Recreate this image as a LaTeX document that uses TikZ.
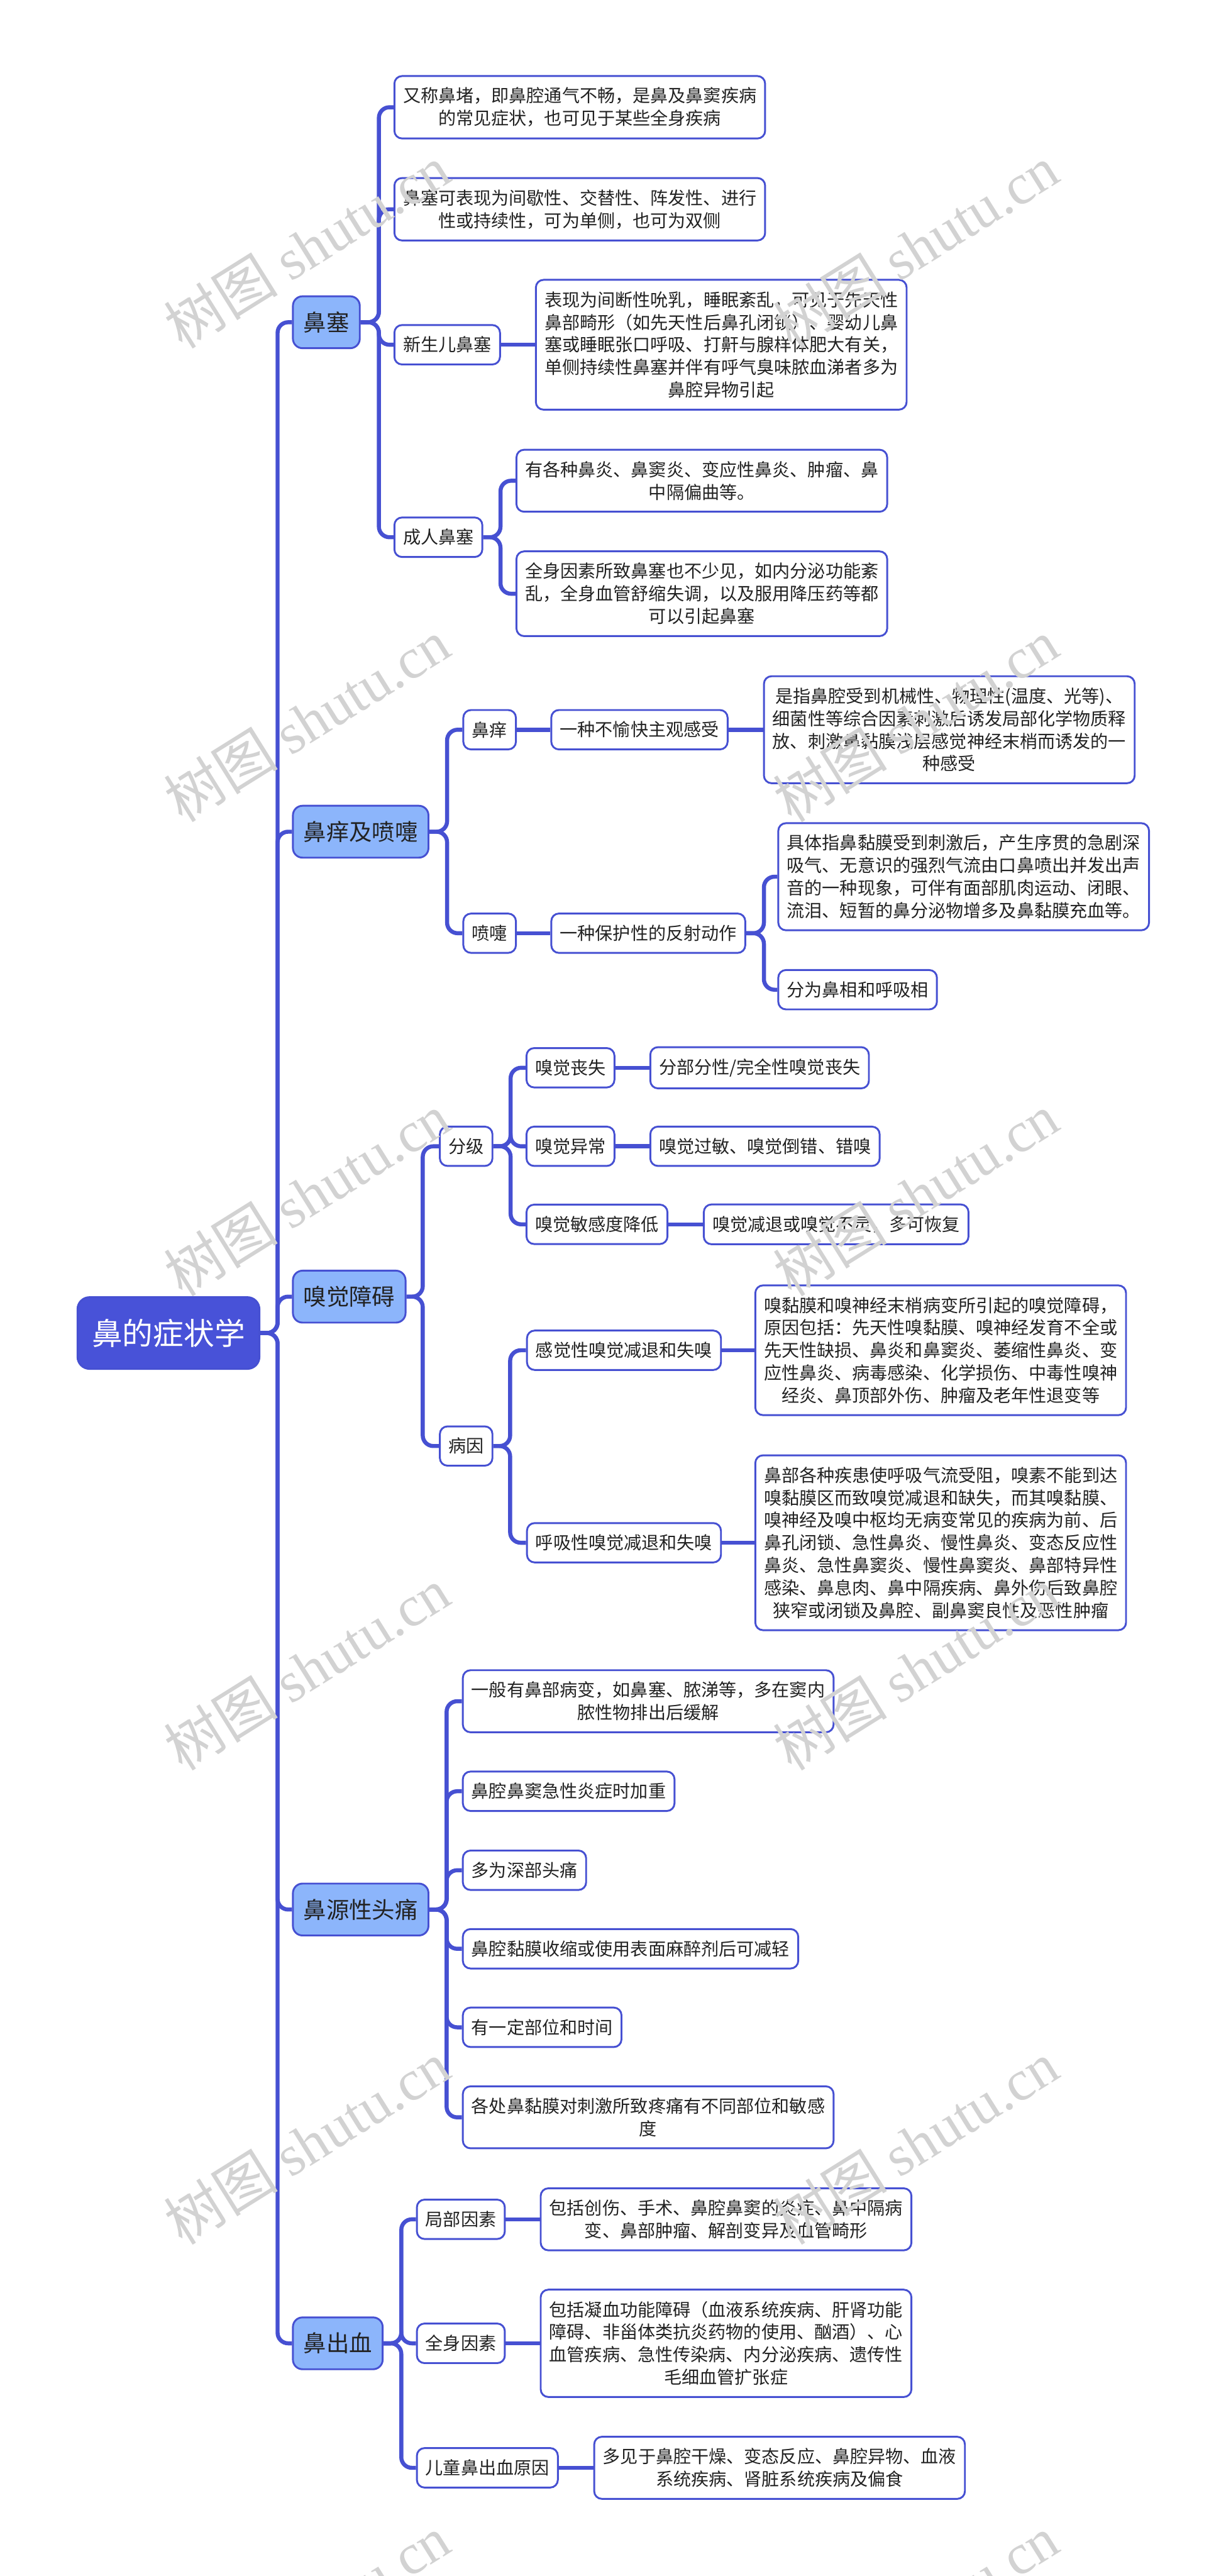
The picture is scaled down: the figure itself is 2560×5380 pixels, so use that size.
\documentclass[tikz,border=0pt]{standalone}
\usepackage{fontspec}
\setmainfont{Noto Sans CJK SC}
\newfontfamily\markfont{Liberation Serif}
\usetikzlibrary{positioning}
\definecolor{LineBlue}{RGB}{70, 80, 210}
\definecolor{RootBlue}{RGB}{72, 82, 216}
\definecolor{TopicBlue}{RGB}{140, 181, 251}
\definecolor{InkGray}{RGB}{34, 34, 34}
\definecolor{MarkGray}{RGB}{210, 210, 210}

\tikzset{
  link/.style={LineBlue, line width=2.4pt, rounded corners=0.22cm},
  rootbox/.style={draw=LineBlue, fill=RootBlue, text=white, line width=1.1pt,
    rounded corners=0.25cm, inner xsep=0.3cm, inner ysep=0.45cm,
    font=\fontsize{18.2}{22}\selectfont, anchor=west},
  topicbox/.style={draw=LineBlue, fill=TopicBlue, text=InkGray, line width=1.1pt,
    rounded corners=0.2cm, inner xsep=0.22cm, inner ysep=0.32cm,
    font=\fontsize{13.6}{16}\selectfont, anchor=west},
  itembox/.style={draw=LineBlue, fill=white, text=InkGray, line width=1.1pt,
    rounded corners=0.16cm, inner xsep=0.18cm, inner ysep=0.24cm, align=center,
    font=\fontsize{10.5}{13.4}\selectfont, anchor=west},
  wmark/.style={text=MarkGray, rotate=32, font=\fontsize{34}{40}\selectfont}
}

\begin{document}
\begin{tikzpicture}[x=0.01cm, y=-0.01cm]
    \fill[white] (0,0) rectangle (2560,5380);
    \useasboundingbox (0,0) rectangle (2560,5380);

    % Root and topics
    \node[rootbox] (root) at (160, 2784) {鼻的症状学};
    \node[topicbox] (nasal) at (610, 673) {鼻塞};
    \node[topicbox] (itch) at (610, 1737) {鼻痒及喷嚏};
    \node[topicbox] (smell) at (610, 2708) {嗅觉障碍};
    \node[topicbox] (headache) at (610, 3988) {鼻源性头痛};
    \node[topicbox] (bleed) at (610, 4894) {鼻出血};

    % Nasal obstruction
    \node[itembox] (nasalA) at (822, 224) {又称鼻堵，即鼻腔通气不畅，是鼻及鼻窦疾病\\的常见症状，也可见于某些全身疾病};
    \node[itembox] (nasalB) at (822, 437) {鼻塞可表现为间歇性、交替性、阵发性、进行\\性或持续性，可为单侧，也可为双侧};
    \node[itembox] (newborn) at (822, 720) {新生儿鼻塞};
    \node[itembox, right=0.71cm of newborn] (newbornD) {表现为间断性吮乳，睡眠紊乱，可见于先天性\\鼻部畸形（如先天性后鼻孔闭锁）、婴幼儿鼻\\塞或睡眠张口呼吸、打鼾与腺样体肥大有关，\\单侧持续性鼻塞并伴有呼气臭味脓血涕者多为\\鼻腔异物引起};
    \node[itembox] (adult) at (822, 1122) {成人鼻塞};
    \node[itembox] (adultA) at (1077, 1004) {有各种鼻炎、鼻窦炎、变应性鼻炎、肿瘤、鼻\\中隔偏曲等。};
    \node[itembox] (adultB) at (1077, 1240) {全身因素所致鼻塞也不少见，如内分泌功能紊\\乱，全身血管舒缩失调，以及服用降压药等都\\可以引起鼻塞};

    % Itching and sneezing
    \node[itembox] (itchy) at (966, 1524) {鼻痒};
    \node[itembox, right=0.7cm of itchy] (itchyA) {一种不愉快主观感受};
    \node[itembox, right=0.72cm of itchyA] (itchyD) {是指鼻腔受到机械性、物理性(温度、光等)、\\细菌性等综合因素刺激后诱发局部化学物质释\\放、刺激鼻黏膜浅层感觉神经末梢而诱发的一\\种感受};
    \node[itembox] (sneeze) at (966, 1949) {喷嚏};
    \node[itembox, right=0.7cm of sneeze] (sneezeA) {一种保护性的反射动作};
    \node[itembox] (sneezeD) at (1624, 1831) {具体指鼻黏膜受到刺激后，产生序贯的急剧深\\吸气、无意识的强烈气流由口鼻喷出并发出声\\音的一种现象，可伴有面部肌肉运动、闭眼、\\流泪、短暂的鼻分泌物增多及鼻黏膜充血等。};
    \node[itembox] (sneezeP) at (1624, 2067) {分为鼻相和呼吸相};

    % Olfactory disorders
    \node[itembox] (grade) at (917, 2394) {分级};
    \node[itembox] (lossA) at (1098, 2230) {嗅觉丧失};
    \node[itembox, right=0.71cm of lossA] (lossB) {分部分性/完全性嗅觉丧失};
    \node[itembox] (oddA) at (1098, 2394) {嗅觉异常};
    \node[itembox, right=0.71cm of oddA] (oddB) {嗅觉过敏、嗅觉倒错、错嗅};
    \node[itembox] (lowA) at (1098, 2557) {嗅觉敏感度降低};
    \node[itembox, right=0.72cm of lowA] (lowB) {嗅觉减退或嗅觉不灵，多可恢复};
    \node[itembox] (cause) at (917, 3020) {病因};
    \node[itembox] (sensA) at (1099, 2820) {感觉性嗅觉减退和失嗅};
    \node[itembox] (sensB) at (1576, 2820) {嗅黏膜和嗅神经末梢病变所引起的嗅觉障碍，\\原因包括：先天性嗅黏膜、嗅神经发育不全或\\先天性缺损、鼻炎和鼻窦炎、萎缩性鼻炎、变\\应性鼻炎、病毒感染、化学损伤、中毒性嗅神\\经炎、鼻顶部外伤、肿瘤及老年性退变等};
    \node[itembox] (respA) at (1099, 3222) {呼吸性嗅觉减退和失嗅};
    \node[itembox] (respB) at (1576, 3222) {鼻部各种疾患使呼吸气流受阻，嗅素不能到达\\嗅黏膜区而致嗅觉减退和缺失，而其嗅黏膜、\\嗅神经及嗅中枢均无病变常见的疾病为前、后\\鼻孔闭锁、急性鼻炎、慢性鼻炎、变态反应性\\鼻炎、急性鼻窦炎、慢性鼻窦炎、鼻部特异性\\感染、鼻息肉、鼻中隔疾病、鼻外伤后致鼻腔\\狭窄或闭锁及鼻腔、副鼻窦良性及恶性肿瘤};

    % Rhinogenic headache
    \node[itembox] (headA) at (965, 3553) {一般有鼻部病变，如鼻塞、脓涕等，多在窦内\\脓性物排出后缓解};
    \node[itembox] (headB) at (965, 3741) {鼻腔鼻窦急性炎症时加重};
    \node[itembox] (headC) at (965, 3906) {多为深部头痛};
    \node[itembox] (headD) at (965, 4070) {鼻腔黏膜收缩或使用表面麻醉剂后可减轻};
    \node[itembox] (headE) at (965, 4234) {有一定部位和时间};
    \node[itembox] (headF) at (965, 4422) {各处鼻黏膜对刺激所致疼痛有不同部位和敏感\\度};

    % Epistaxis
    \node[itembox] (localA) at (869, 4635) {局部因素};
    \node[itembox, right=0.71cm of localA] (localB) {包括创伤、手术、鼻腔鼻窦的炎症、鼻中隔病\\变、鼻部肿瘤、解剖变异及血管畸形};
    \node[itembox] (sysA) at (869, 4894) {全身因素};
    \node[itembox, right=0.71cm of sysA] (sysB) {包括凝血功能障碍（血液系统疾病、肝肾功能\\障碍、非甾体类抗炎药物的使用、酗酒）、心\\血管疾病、急性传染病、内分泌疾病、遗传性\\毛细血管扩张症};
    \node[itembox] (childA) at (869, 5154) {儿童鼻出血原因};
    \node[itembox, right=0.72cm of childA] (childB) {多见于鼻腔干燥、变态反应、鼻腔异物、血液\\系统疾病、肾脏系统疾病及偏食};

    % Links
    \foreach \t in {nasal,itch,smell,headache,bleed}
      \draw[link] (root.east) -- ++(36,0) |- (\t.west);
    \foreach \t in {nasalA,nasalB,newborn,adult}
      \draw[link] (nasal.east) -- ++(38,0) |- (\t.west);
    \draw[link] (newborn.east) -- (newbornD.west);
    \foreach \t in {adultA,adultB}
      \draw[link] (adult.east) -- ++(36,0) |- (\t.west);
    \foreach \t in {itchy,sneeze}
      \draw[link] (itch.east) -- ++(37,0) |- (\t.west);
    \draw[link] (itchy.east) -- (itchyA.west);
    \draw[link] (itchyA.east) -- (itchyD.west);
    \draw[link] (sneeze.east) -- (sneezeA.west);
    \foreach \t in {sneezeD,sneezeP}
      \draw[link] (sneezeA.east) -- ++(37,0) |- (\t.west);
    \foreach \t in {grade,cause}
      \draw[link] (smell.east) -- ++(34,0) |- (\t.west);
    \foreach \t in {lossA,oddA,lowA}
      \draw[link] (grade.east) -- ++(36,0) |- (\t.west);
    \draw[link] (lossA.east) -- (lossB.west);
    \draw[link] (oddA.east) -- (oddB.west);
    \draw[link] (lowA.east) -- (lowB.west);
    \foreach \t in {sensA,respA}
      \draw[link] (cause.east) -- ++(35,0) |- (\t.west);
    \draw[link] (sensA.east) -- (sensB.west);
    \draw[link] (respA.east) -- (respB.west);
    \foreach \t in {headA,headB,headC,headD,headE,headF}
      \draw[link] (headache.east) -- ++(36,0) |- (\t.west);
    \foreach \t in {localA,sysA,childA}
      \draw[link] (bleed.east) -- ++(37,0) |- (\t.west);
    \draw[link] (localA.east) -- (localB.west);
    \draw[link] (sysA.east) -- (sysB.west);
    \draw[link] (childA.east) -- (childB.west);

    % Watermarks
    \foreach \wy in {515,1505,2495,3485,4475,5465} {
      \node[wmark] (wmL\wy) at (641,\wy) {树图 {\markfont shutu.cn}};
      \node[wmark] (wmR\wy) at (1913,\wy) {树图 {\markfont shutu.cn}};
    }
\end{tikzpicture}
\end{document}
